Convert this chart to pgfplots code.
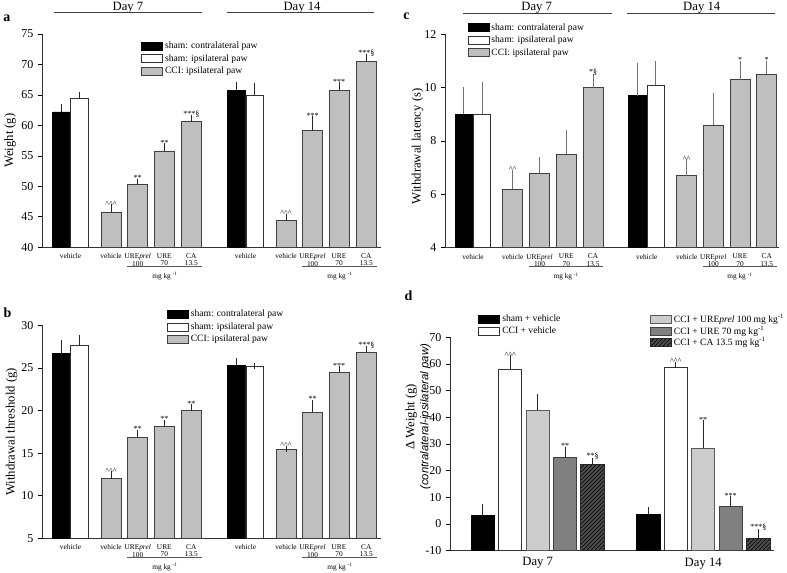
\documentclass[border=0pt]{standalone}
\usepackage{fontspec}
\setmainfont{Liberation Serif}
\setsansfont{Liberation Sans}
\usepackage{pgfplots}
\pgfplotsset{compat=1.18}
\usetikzlibrary{patterns}

\newcommand{\tk}{\fontsize{9}{10}\selectfont}
\newcommand{\lab}{\fontsize{9.5}{10.5}\selectfont}
\newcommand{\cat}{\fontsize{5.5}{5.6}\selectfont}
\newcommand{\leg}{\fontsize{7.2}{8}\selectfont}
\newcommand{\annf}{\fontsize{6}{6}\selectfont}
\newcommand{\asc}{\textasciicircum\textasciicircum\textasciicircum}
\newcommand{\asctwo}{\textasciicircum\textasciicircum}

\tikzset{ann/.style={font=\annf, inner sep=0.6pt, anchor=south},
  hd/.style={font=\lab},
  hl/.style={line width=0.6pt, black!75},
  ml/.style={line width=0.45pt, black!65}}

\pgfplotsset{
  legsty/.style={legend cell align=left,
    legend style={draw=none, fill=none, font=\leg, inner sep=0pt, anchor=north west,
      row sep=0pt, column sep=1.5pt, nodes={inner sep=0pt, minimum height=#1}},
    legend image code/.code={\draw[##1] (0pt,-3pt) rectangle (15.75pt,3pt);}},
  panel/.style={scale only axis, ybar, axis x line*=bottom, axis y line*=left,
    axis line style={-, line width=0.6pt, black!80}, clip mode=individual,
    tick align=outside, major tick length=3pt, xtick style={draw=none},
    ytick style={line width=0.5pt, black}, tick label style={font=\tk},
    /pgf/number format/assume math mode=true,
    xticklabel style={font=\cat, align=center, inner sep=1.5pt},
    ylabel style={font=\lab}, legsty=9.4pt},
  bb/.style={bar shift=0pt, bar width=#1, line width=0.6pt,
    error bars/y dir=plus, error bars/y explicit,
    error bars/error bar style={line width=0.5pt, black!85},
    error bars/error mark options={line width=0.5pt, mark size=2.2pt, black!85}},
  bc/.style={bb=#1, error bars/error bar style={line width=0.5pt, black!55},
    error bars/error mark options={line width=0.5pt, mark size=2.2pt, black!55}},
}

\begin{document}
\begin{tikzpicture}
\path[use as bounding box] (0,0) rectangle (590.25pt,-429.75pt);

% ---------------- panel a ----------------
\begin{axis}[panel, at={(42*0.75pt,-247.3*0.75pt)}, anchor=south west,
  width=254.25pt, height=160pt, xmin=42, xmax=381, ymin=40, ymax=75,
  ytick={40,45,...,75}, ylabel={Weight (g)},
  ylabel style={at={(axis description cs:-0.094,0.5)}, anchor=center},
  xtick={70.5,111,137.7,164.3,191.3,245.5,286,312.5,339,366.3},
  xticklabels={vehicle,vehicle,URE\textit{prel}\\100,URE\\70,CA\\13.5,vehicle,vehicle,URE\textit{prel}\\100,URE\\70,CA\\13.5},
  legend style={at={(axis description cs:0.292,0.973)}}]
\addplot[bb=17.5, fill=black, draw=black] coordinates {(61.5,62.2) +- (0,0.8) (236.4,65.8) +- (0,0.8)};
\addplot[bb=17.5, fill=white, draw=black!80] coordinates {(79.5,64.4) +- (0,0.6) (254.7,65.0) +- (0,1.4)};
\addplot[bb=20, fill=black!25, draw=black!75] coordinates {(111,45.8) +- (0,0.8) (137.7,50.3) +- (0,0.5) (164.3,55.8) +- (0,0.8) (191.3,60.6) +- (0,0.6) (286,44.4) +- (0,0.6) (312.5,59.2) +- (0,1.8) (339,65.8) +- (0,0.8) (366.3,70.5) +- (0,0.7)};
\legend{sham: contralateral paw, sham: ipsilateral paw, CCI: ipsilateral paw}
\node[ann] at (axis cs:111,46.6) {\asc};
\node[ann] at (axis cs:137.7,50.8) {**};
\node[ann] at (axis cs:164.3,56.6) {**};
\node[ann] at (axis cs:191.3,61.2) {***§};
\node[ann] at (axis cs:286,45.0) {\asc};
\node[ann] at (axis cs:312.5,61.0) {***};
\node[ann] at (axis cs:339,66.6) {***};
\node[ann] at (axis cs:366.3,71.2) {***§};
\node[hd] at ([yshift=20pt]axis cs:128,75) {Day 7};
\node[hd] at ([yshift=20pt]axis cs:302,75) {Day 14};
\draw[hl] ([yshift=16pt]axis cs:54,75) -- ([yshift=16pt]axis cs:202,75);
\draw[hl] ([yshift=16pt]axis cs:227,75) -- ([yshift=16pt]axis cs:374,75);
\draw[ml] ([yshift=-13.9pt]axis cs:127,40) -- ([yshift=-13.9pt]axis cs:202,40);
\draw[ml] ([yshift=-13.9pt]axis cs:302,40) -- ([yshift=-13.9pt]axis cs:377,40);
\node[font=\cat] at ([yshift=-21.75pt]axis cs:165,40) {mg kg \textsuperscript{-1}};
\node[font=\cat] at ([yshift=-21.75pt]axis cs:340,40) {mg kg \textsuperscript{-1}};
\end{axis}

% ---------------- panel b ----------------
\begin{axis}[panel, at={(42*0.75pt,-538.3*0.75pt)}, anchor=south west,
  width=254.25pt, height=159.75pt, xmin=42, xmax=381, ymin=5, ymax=30,
  ytick={5,10,...,30}, ylabel={Withdrawal threshold (g)},
  ylabel style={at={(axis description cs:-0.09,0.5)}, anchor=center},
  xtick={70.5,111,137.7,164.3,191.3,245.5,286,312.5,339,366.3},
  xticklabels={vehicle,vehicle,URE\textit{prel}\\100,URE\\70,CA\\13.5,vehicle,vehicle,URE\textit{prel}\\100,URE\\70,CA\\13.5},
  legend style={at={(axis description cs:0.368,1.081)}}]
\addplot[bb=17.5, fill=black, draw=black] coordinates {(61.5,26.7) +- (0,1.2) (236.4,25.3) +- (0,0.5)};
\addplot[bb=17.5, fill=white, draw=black!80] coordinates {(79.5,27.6) +- (0,0.9) (254.7,25.2) +- (0,0.05)};
\addplot[bb=20, fill=black!25, draw=black!75] coordinates {(111,12.0) +- (0,0.5) (137.7,16.8) +- (0,0.6) (164.3,18.1) +- (0,0.5) (191.3,20.0) +- (0,0.4) (286,15.4) +- (0,0.1) (312.5,19.8) +- (0,1.1) (339,24.5) +- (0,0.35) (366.3,26.8) +- (0,0.4)};
\legend{sham: contralateral paw, sham: ipsilateral paw, CCI: ipsilateral paw}
\node[ann] at (axis cs:111,12.5) {\asc};
\node[ann] at (axis cs:137.7,17.4) {**};
\node[ann] at (axis cs:164.3,18.6) {**};
\node[ann] at (axis cs:191.3,20.4) {**};
\node[ann] at (axis cs:286,15.5) {\asc};
\node[ann] at (axis cs:312.5,20.9) {**};
\node[ann] at (axis cs:339,24.85) {***};
\node[ann] at (axis cs:366.3,27.2) {***§};
\draw[ml] ([yshift=-13.9pt]axis cs:127,5) -- ([yshift=-13.9pt]axis cs:202,5);
\draw[ml] ([yshift=-13.9pt]axis cs:302,5) -- ([yshift=-13.9pt]axis cs:377,5);
\node[font=\cat] at ([yshift=-21.75pt]axis cs:165,5) {mg kg \textsuperscript{-1}};
\node[font=\cat] at ([yshift=-21.75pt]axis cs:340,5) {mg kg \textsuperscript{-1}};
\end{axis}

% ---------------- panel c ----------------
\begin{axis}[panel, at={(445*0.75pt,-247.7*0.75pt)}, anchor=south west,
  width=250.5pt, height=160.05pt, xmin=445, xmax=779, ymin=4, ymax=12,
  ytick={4,6,...,12}, ylabel={Withdrawal latency (s)},
  ylabel style={at={(axis description cs:-0.082,0.475)}, anchor=center},
  xtick={473,512.7,539.5,566.3,593,646.7,686.7,713.3,740,766.7},
  xticklabels={vehicle,vehicle,URE\textit{prel}\\100,URE\\70,CA\\13.5,vehicle,vehicle,URE\textit{prel}\\100,URE\\70,CA\\13.5},
  legend style={at={(axis description cs:0.067,1.061)}}]
\addplot[bc=17.4, fill=black, draw=black] coordinates {(463.7,9.0) +- (0,0.9) (637.2,9.7) +- (0,1.1)};
\addplot[bc=17.4, fill=white, draw=black!80] coordinates {(482,9.0) +- (0,1.1) (655.7,10.1) +- (0,0.8)};
\addplot[bc=20, fill=black!25, draw=black!75] coordinates {(512.7,6.2) +- (0,0.6) (539.5,6.8) +- (0,0.5) (566.3,7.5) +- (0,0.8) (593,10.0) +- (0,0.4) (686.7,6.7) +- (0,0.5) (713.3,8.6) +- (0,1.1) (740,10.3) +- (0,0.6) (766.7,10.5) +- (0,0.4)};
\legend{sham: contralateral paw, sham: ipsilateral paw, CCI: ipsilateral paw}
\node[ann] at (axis cs:512.7,6.8) {\asctwo};
\node[ann] at (axis cs:593,10.4) {*§};
\node[ann] at (axis cs:686.7,7.2) {\asctwo};
\node[ann] at (axis cs:740,10.9) {*};
\node[ann] at (axis cs:766.7,10.9) {*};
\node[hd] at ([yshift=20pt]axis cs:536.7,12) {Day 7};
\node[hd] at ([yshift=20pt]axis cs:701.7,12) {Day 14};
\draw[hl] ([yshift=15.75pt]axis cs:463,12) -- ([yshift=15.75pt]axis cs:612,12);
\draw[hl] ([yshift=15.75pt]axis cs:626.7,12) -- ([yshift=15.75pt]axis cs:775,12);
\draw[ml] ([yshift=-13.9pt]axis cs:529.3,4) -- ([yshift=-13.9pt]axis cs:603,4);
\draw[ml] ([yshift=-13.9pt]axis cs:703.3,4) -- ([yshift=-13.9pt]axis cs:776.7,4);
\node[font=\cat] at ([yshift=-21.75pt]axis cs:566.2,4) {mg kg \textsuperscript{-1}};
\node[font=\cat] at ([yshift=-21.75pt]axis cs:740,4) {mg kg \textsuperscript{-1}};
\end{axis}

% ---------------- panel d ----------------
\begin{axis}[panel, at={(450*0.75pt,-550.7*0.75pt)}, anchor=south west,
  width=243pt, height=160.05pt, xmin=450, xmax=774, ymin=-10, ymax=70,
  y coord trafo/.code={\pgfmathparse{#1+10}},
  y coord inv trafo/.code={\pgfmathparse{#1-10}},
  ytick={-10,0,10,20,30,40,50,60,70}, yticklabels={-10,0,10,20,30,40,50,60,70},
  xtick={537.7,703.2}, xticklabels={Day 7,Day 14},
  xticklabel style={font=\lab, inner sep=2pt},
  ylabel={Δ Weight (g)\\{\sffamily\itshape\fontsize{8.5}{9.5}\selectfont (contralateral-ipsilateral paw)}},
  ylabel style={align=center, at={(axis description cs:-0.098,0.628)}, anchor=center},
  legsty=8.55pt,
  legend style={at={(axis description cs:0.087,1.111)}}]
\addplot[bb=23.3, fill=black, draw=black] coordinates {(482.7,3.1) +- (0,3.4) (648.3,3.6) +- (0,1.5)};
\addplot[bb=23.3, fill=white, draw=black!80] coordinates {(510.2,58.0) +- (0,4.1) (675.8,58.8) +- (0,0.95)};
\addplot[bb=23.3, fill=black!20, draw=black!65] coordinates {(537.7,42.6) +- (0,5.0) (703.2,28.5) +- (0,9.25)};
\addplot[bb=23.3, fill=black!50, draw=black!75] coordinates {(565,24.9) +- (0,2.85) (730.7,6.6) +- (0,2.65)};
\addplot[bb=23.3, fill=black!70, draw=black!85, postaction={pattern=north east lines, pattern color=black}] coordinates {(592.5,22.25) +- (0,1.5) (758.3,-5.25) +- (0,2.25)};
\legend{sham + vehicle, CCI + vehicle}
\node[ann] at (axis cs:510.2,62.1) {\asc};
\node[ann] at (axis cs:565,27.75) {**};
\node[ann] at (axis cs:592.5,23.75) {**§};
\node[ann] at (axis cs:675.8,59.75) {\asc};
\node[ann] at (axis cs:703.2,37.75) {**};
\node[ann] at (axis cs:730.7,9.25) {***};
\node[ann] at (axis cs:758.3,-3.0) {***§};
\end{axis}
\begin{axis}[scale only axis, hide axis, at={(450*0.75pt,-550.7*0.75pt)}, anchor=south west,
  width=243pt, height=160.05pt, xmin=0, xmax=1, ymin=0, ymax=1, legsty=8.55pt,
  legend style={at={(axis description cs:0.617,1.111)}}]
\addlegendimage{fill=black!20, draw=black!65, line width=0.6pt}
\addlegendentry{CCI + URE\textit{prel} 100 mg kg\textsuperscript{-1}}
\addlegendimage{fill=black!50, draw=black!75, line width=0.6pt}
\addlegendentry{CCI + URE 70 mg kg\textsuperscript{-1}}
\addlegendimage{fill=black!70, draw=black!85, line width=0.6pt, postaction={pattern=north east lines, pattern color=black}}
\addlegendentry{CCI + CA 13.5 mg kg\textsuperscript{-1}}
\end{axis}

% panel letters
\node[font=\bfseries\fontsize{10.5}{11}\selectfont] at (7*0.75pt,-18.3*0.75pt) {a};
\node[font=\bfseries\fontsize{10.5}{11}\selectfont] at (7.5*0.75pt,-312.5*0.75pt) {b};
\node[font=\bfseries\fontsize{10.5}{11}\selectfont] at (406.5*0.75pt,-16*0.75pt) {c};
\node[font=\bfseries\fontsize{10.5}{11}\selectfont] at (408.5*0.75pt,-296*0.75pt) {d};
\end{tikzpicture}
\end{document}
